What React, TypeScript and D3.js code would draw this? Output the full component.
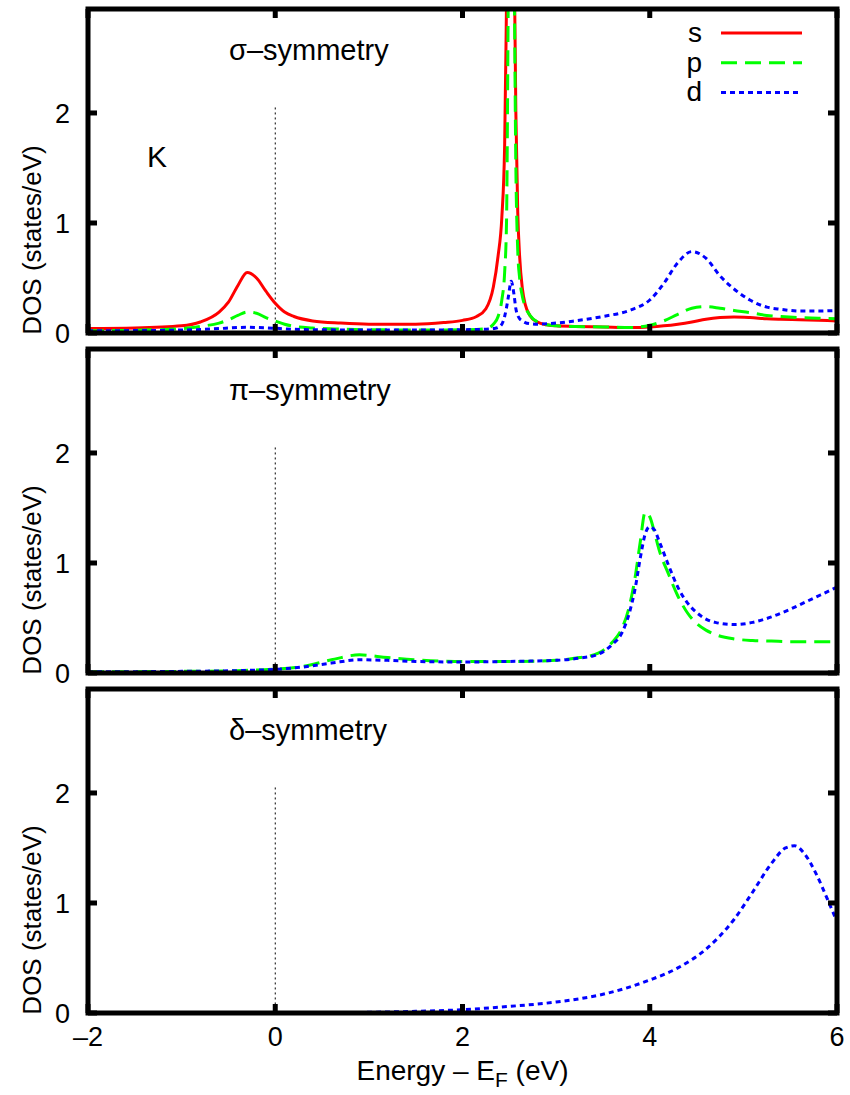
import React, { useEffect, useRef } from 'react';
import * as d3 from 'd3';

// sigma-symmetry panel (s, p, d)
const energySigma = [-2, -1.5, -1.0, -0.8, -0.6, -0.5, -0.4, -0.3, -0.2, -0.1, 0, 0.1, 0.2, 0.4, 0.7, 1.0, 1.5, 1.8, 2.0, 2.15, 2.25, 2.33, 2.38, 2.42, 2.45, 2.47, 2.49, 2.52, 2.55, 2.57, 2.59, 2.61, 2.64, 2.67, 2.72, 2.8, 2.9, 3.0, 3.2, 3.5, 3.8, 4.0, 4.15, 4.3, 4.45, 4.6, 4.75, 4.9, 5.07, 5.25, 5.4, 5.6, 5.8, 6.0];
const sigmaS = [0.04, 0.045, 0.065, 0.1, 0.19, 0.28, 0.43, 0.55, 0.5, 0.38, 0.27, 0.19, 0.15, 0.11, 0.09, 0.08, 0.08, 0.095, 0.115, 0.15, 0.22, 0.42, 0.7, 1.05, 1.7, 3.0, 4.5, 5.0, 3.6, 2.0, 1.1, 0.7, 0.4, 0.26, 0.16, 0.1, 0.075, 0.065, 0.06, 0.055, 0.05, 0.055, 0.065, 0.08, 0.1, 0.125, 0.14, 0.145, 0.14, 0.13, 0.125, 0.12, 0.115, 0.11];
const sigmaP = [0.02, 0.025, 0.04, 0.06, 0.09, 0.12, 0.16, 0.19, 0.18, 0.14, 0.11, 0.08, 0.06, 0.045, 0.035, 0.03, 0.028, 0.028, 0.03, 0.032, 0.04, 0.08, 0.15, 0.3, 0.55, 1.0, 3.2, 6.0, 3.5, 1.5, 0.75, 0.5, 0.33, 0.24, 0.16, 0.1, 0.075, 0.065, 0.058, 0.055, 0.05, 0.07, 0.11, 0.17, 0.225, 0.24, 0.225, 0.205, 0.185, 0.16, 0.15, 0.14, 0.135, 0.13];
const sigmaD = [0.02, 0.022, 0.027, 0.032, 0.04, 0.045, 0.05, 0.052, 0.05, 0.047, 0.043, 0.038, 0.034, 0.03, 0.028, 0.027, 0.027, 0.028, 0.03, 0.032, 0.034, 0.04, 0.05, 0.08, 0.15, 0.23, 0.33, 0.47, 0.35, 0.22, 0.16, 0.13, 0.11, 0.095, 0.085, 0.08, 0.085, 0.09, 0.11, 0.15, 0.21, 0.3, 0.45, 0.64, 0.74, 0.68, 0.52, 0.4, 0.3, 0.235, 0.215, 0.2, 0.2, 0.205];

// pi-symmetry panel (p, d)
const energyPi = [-2, -1.5, -1, -0.5, 0, 0.3, 0.6, 0.9, 1.2, 1.5, 2.0, 2.5, 3.0, 3.25, 3.45, 3.6, 3.7, 3.78, 3.84, 3.9, 3.95, 4.0, 4.05, 4.1, 4.2, 4.3, 4.4, 4.5, 4.6, 4.7, 4.9, 5.1, 5.3, 5.5, 5.75, 6.0];
const piP = [0.01, 0.012, 0.015, 0.02, 0.035, 0.06, 0.12, 0.165, 0.14, 0.12, 0.105, 0.105, 0.115, 0.14, 0.18, 0.28, 0.4, 0.6, 0.85, 1.2, 1.46, 1.42, 1.28, 1.12, 0.9, 0.7, 0.55, 0.45, 0.39, 0.35, 0.31, 0.295, 0.29, 0.285, 0.285, 0.285];
const piD = [0.01, 0.012, 0.015, 0.02, 0.033, 0.055, 0.09, 0.12, 0.115, 0.105, 0.1, 0.105, 0.115, 0.135, 0.17, 0.26, 0.36, 0.54, 0.75, 1.05, 1.26, 1.33, 1.3, 1.2, 0.98, 0.78, 0.64, 0.55, 0.49, 0.46, 0.44, 0.46, 0.51, 0.58, 0.68, 0.78];

// delta-symmetry panel (d)
const energyDelta = [-2, 0.5, 1.0, 1.5, 2.0, 2.5, 3.0, 3.5, 4.0, 4.3, 4.6, 4.9, 5.1, 5.3, 5.45, 5.55, 5.65, 5.78, 5.9, 6.0];
const deltaD = [0, 0, 0.006, 0.015, 0.03, 0.06, 0.1, 0.17, 0.3, 0.41, 0.58, 0.85, 1.1, 1.36, 1.5, 1.52, 1.45, 1.26, 1.03, 0.83];

const xTicks = [-2, 0, 2, 4, 6];
const yTicks = [0, 1, 2];
const panelLabels = ['σ–symmetry', 'π–symmetry', 'δ–symmetry'];
const legendNames = ['s', 'p', 'd'];

const FONT = '"Liberation Sans", Arial, Helvetica, sans-serif';

const styles = {
  s: { color: '#ff0000', dash: null },
  p: { color: '#00ff00', dash: '16,8' },
  d: { color: '#0000ff', dash: '5,4' },
};

export default function App() {
  const ref = useRef(null);

  useEffect(() => {
    const svg = d3.select(ref.current);
    svg.selectAll('*').remove();

    const left = 88,
      right = 837,
      panelHeight = 324,
      tops = [9, 349, 689];

    const x = d3.scaleLinear().domain([-2, 6]).range([left, right]);

    const panels = [
      [
        { key: 's', e: energySigma, v: sigmaS },
        { key: 'p', e: energySigma, v: sigmaP },
        { key: 'd', e: energySigma, v: sigmaD },
      ],
      [
        { key: 'p', e: energyPi, v: piP },
        { key: 'd', e: energyPi, v: piD },
      ],
      [{ key: 'd', e: energyDelta, v: deltaD }],
    ];

    panels.forEach((series, i) => {
      const top = tops[i];
      const bottom = top + panelHeight;
      const y = d3.scaleLinear().domain([0, 2.945]).range([bottom, top]);
      const g = svg.append('g');

      // clip curves to the plot area
      g.append('clipPath')
        .attr('id', 'clip' + i)
        .append('rect')
        .attr('x', left)
        .attr('y', top)
        .attr('width', right - left)
        .attr('height', panelHeight);

      // Fermi level marker
      g.append('line')
        .attr('x1', x(0))
        .attr('x2', x(0))
        .attr('y1', y(2.05))
        .attr('y2', y(0))
        .attr('stroke', '#000')
        .attr('stroke-width', 1)
        .attr('stroke-dasharray', '2,3');

      const curves = g.append('g').attr('clip-path', `url(#clip${i})`);
      series.forEach((s) => {
        const st = styles[s.key];
        const line = d3
          .line()
          .x((d) => x(d[0]))
          .y((d) => y(d[1]))
          .curve(d3.curveMonotoneX);
        curves
          .append('path')
          .datum(s.e.map((e, j) => [e, s.v[j]]))
          .attr('fill', 'none')
          .attr('stroke', st.color)
          .attr('stroke-width', 3)
          .attr('stroke-dasharray', st.dash)
          .attr('d', line);
      });

      // ticks on all four sides, pointing in
      const tl = 9;
      xTicks.forEach((t) => {
        g.append('line').attr('x1', x(t)).attr('x2', x(t)).attr('y1', bottom).attr('y2', bottom - tl)
          .attr('stroke', '#000').attr('stroke-width', 5);
        g.append('line').attr('x1', x(t)).attr('x2', x(t)).attr('y1', top).attr('y2', top + tl)
          .attr('stroke', '#000').attr('stroke-width', 5);
      });
      yTicks.forEach((t) => {
        g.append('line').attr('x1', left).attr('x2', left + tl).attr('y1', y(t)).attr('y2', y(t))
          .attr('stroke', '#000').attr('stroke-width', 5);
        g.append('line').attr('x1', right).attr('x2', right - tl).attr('y1', y(t)).attr('y2', y(t))
          .attr('stroke', '#000').attr('stroke-width', 5);
        g.append('text')
          .attr('x', 70)
          .attr('y', y(t))
          .attr('dy', '0.36em')
          .attr('text-anchor', 'end')
          .attr('font-family', FONT)
          .attr('font-size', 27)
          .text(t);
      });

      // frame
      g.append('rect')
        .attr('x', left)
        .attr('y', top)
        .attr('width', right - left)
        .attr('height', panelHeight)
        .attr('fill', 'none')
        .attr('stroke', '#000')
        .attr('stroke-width', 5);

      g.append('text')
        .attr('x', 229)
        .attr('y', top + 51)
        .attr('font-family', FONT)
        .attr('font-size', 29)
        .text(panelLabels[i]);

      g.append('text')
        .attr('transform', `translate(41, ${bottom - 93}) rotate(-90)`)
        .attr('text-anchor', 'middle')
        .attr('font-family', FONT)
        .attr('font-size', 26)
        .text('DOS (states/eV)');

      if (i === 0) {
        g.append('text')
          .attr('x', 147)
          .attr('y', 167)
          .attr('font-family', FONT)
          .attr('font-size', 30)
          .text('K');

        legendNames.forEach((n, j) => {
          const ly = 33 + j * 29.7;
          const st = styles[n];
          g.append('text')
            .attr('x', 702)
            .attr('y', ly + 9)
            .attr('text-anchor', 'end')
            .attr('font-family', FONT)
            .attr('font-size', 28)
            .text(n);
          g.append('line')
            .attr('x1', 721)
            .attr('x2', 802)
            .attr('y1', ly)
            .attr('y2', ly)
            .attr('stroke', st.color)
            .attr('stroke-width', 3)
            .attr('stroke-dasharray', st.dash);
        });
      }

      if (i === 2) {
        xTicks.forEach((t) => {
          g.append('text')
            .attr('x', x(t))
            .attr('y', bottom + 33)
            .attr('text-anchor', 'middle')
            .attr('font-family', FONT)
            .attr('font-size', 27)
            .text(t < 0 ? '–' + Math.abs(t) : t);
        });
        const title = g
          .append('text')
          .attr('x', x(2))
          .attr('y', 1080)
          .attr('text-anchor', 'middle')
          .attr('font-family', FONT)
          .attr('font-size', 28);
        title.append('tspan').text('Energy – E');
        title.append('tspan').attr('font-size', 21).attr('dy', 7).text('F');
        title.append('tspan').attr('dy', -7).text(' (eV)');
      }
    });
  }, []);

  return (
    <svg
      ref={ref}
      width={850}
      height={1095}
      style={{ position: 'absolute', left: 0, top: 0, background: '#fff' }}
    />
  );
}
